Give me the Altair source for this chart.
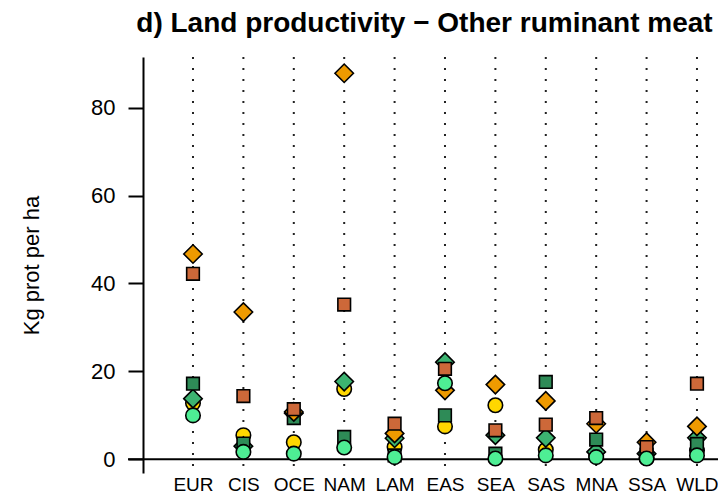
import json
import altair as alt
import pandas as pd

regions = ["EUR", "CIS", "OCE", "NAM", "LAM", "EAS", "SEA", "SAS", "MNA", "SSA", "WLD"]

# values (Kg prot per ha), one list per marker series
yellow_circle = [12.8, 5.5, 3.9, 16.0, 2.8, 7.5, 12.3, 2.2, 0.8, 0.3, 2.0]
green_diamond = [13.8, 3.0, 10.5, 17.7, 4.8, 22.1, 5.5, 4.9, 1.7, 1.3, 4.9]
darkgreen_square = [17.2, 3.6, 9.4, 5.1, 0.9, 10.0, 1.3, 17.6, 4.5, 1.0, 3.5]
orange_diamond = [46.7, 33.5, 10.8, 87.8, 5.9, 15.7, 17.0, 13.3, 8.1, 3.9, 7.5]
orange_square = [42.2, 14.4, 11.4, 35.2, 8.1, 20.6, 6.6, 7.9, 9.4, 2.8, 17.2]
lightgreen_circle = [10.0, 1.7, 1.3, 2.7, 0.5, 17.3, 0.2, 0.9, 0.5, 0.2, 0.9]

y_ticks = [0, 20, 40, 60, 80]

W, H = 575, 416
FONT = "Liberation Sans"

series = [
    ("yellow circle", yellow_circle, "circle", "#FFD700", 210),
    ("green diamond", green_diamond, "diamond", "#3CB371", 340),
    ("dark green square", darkgreen_square, "square", "#2E8B57", 160),
    ("orange diamond", orange_diamond, "diamond", "#EE9A00", 340),
    ("orange square", orange_square, "square", "#CD6839", 160),
    ("light green circle", lightgreen_circle, "circle", "#4EEE94", 210),
]

reg_df = pd.DataFrame({"idx": list(range(len(regions))), "region": regions})

xscale = alt.Scale(domain=[-0.992, 10.417], nice=False, zero=False)
yscale = alt.Scale(domain=[-3.1, 91.5], nice=False, zero=False)

label_expr = json.dumps(regions) + "[datum.value]"

x_axis = alt.Axis(
    values=list(range(len(regions))), labelExpr=label_expr, title=None,
    domain=False, ticks=False, grid=False, labelFontSize=19, labelFont=FONT,
    labelColor="black", labelPadding=2,
)
y_axis = alt.Axis(
    values=y_ticks, title="Kg prot per ha", grid=False,
    domainColor="black", domainWidth=2, tickColor="black", tickWidth=2,
    tickSize=15, labelFontSize=22, labelFont=FONT, labelColor="black",
    labelPadding=13, titleFontSize=22, titleFont=FONT, titleFontWeight="normal",
    titleColor="black", titleX=-112, titleY=H / 2, titleAlign="center",
    titleBaseline="middle", titleAngle=270,
)

dots = alt.Chart(reg_df).mark_rule(
    color="#222222", strokeWidth=2, strokeDash=[2, 9]
).encode(
    x=alt.X("idx:Q", scale=xscale, axis=x_axis),
    y=alt.value(0),
    y2=alt.value(H),
)

zero = alt.Chart(reg_df.head(1)).mark_rule(color="black", strokeWidth=2).encode(
    y=alt.Y("z:Q", scale=yscale, axis=y_axis),
    x=alt.value(-15),
    x2=alt.value(W),
).transform_calculate(z="0")

layers = [dots, zero]
for name, vals, shape, color, size in series:
    df = pd.DataFrame({"idx": list(range(len(regions))), "region": regions,
                       "value": vals, "series": name})
    layers.append(
        alt.Chart(df).mark_point(
            shape=shape, filled=True, fill=color, stroke="black",
            strokeWidth=1.6, size=size, opacity=1,
        ).encode(
            x=alt.X("idx:Q", scale=xscale),
            y=alt.Y("value:Q", scale=yscale),
            tooltip=["region:N", "series:N", "value:Q"],
        )
    )

chart = alt.layer(*layers).properties(
    width=W, height=H,
    title=alt.Title(
        "d) Land productivity − Other ruminant meat", fontSize=28, font=FONT,
        fontWeight="bold", anchor="middle", frame="group", dx=-6, dy=20,
        offset=16, baseline="alphabetic", color="black",
    ),
    autosize=alt.AutoSizeParams(type="none"),
    padding={"left": 135, "top": 49, "right": 0, "bottom": 24},
).configure_view(stroke=None)

chart.save("out.html", embed_options={"renderer": "svg", "actions": False})
